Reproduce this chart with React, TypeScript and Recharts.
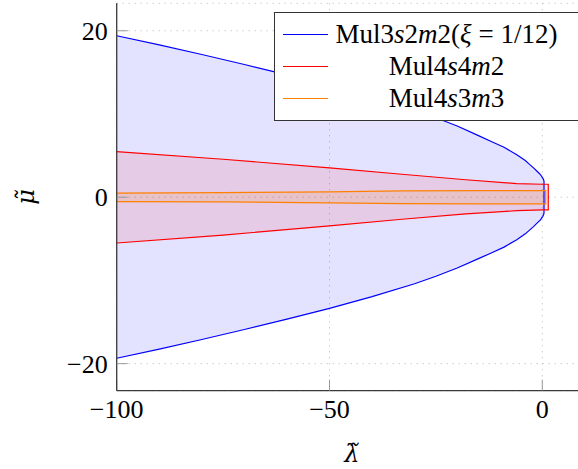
import React from 'react';
import { ComposedChart, Area, Line, XAxis, YAxis, CartesianGrid, Legend } from 'recharts';

// ---- axes ----
const xTicks = [-100, -50, 0];
const yTicks = [-20, 0, 20];
const xDomain: [number, number] = [-100, 10.5];
const yDomain: [number, number] = [-23.25, 23.3];

// ---- series: Mul3s2m2 (xi = 1/12) ----
const blueLambda = [-100, -90, -80, -70, -60, -50, -40, -30, -25, -20, -15, -12, -9, -6, -4, -3, -2, -1, -0.5, -0.2, 0.1, 0.3, 0.4];
const blueUpper = [19.4, 18.3, 17.15, 15.95, 14.7, 13.4, 12.0, 10.45, 9.55, 8.55, 7.4, 6.7, 6.0, 5.1, 4.4, 3.95, 3.5, 3.0, 2.75, 2.55, 2.3, 2.1, 1.9];
const blueLower = [-19.35, -18.25, -17.1, -15.9, -14.65, -13.35, -11.95, -10.4, -9.5, -8.5, -7.38, -6.7, -6.0, -5.1, -4.4, -3.95, -3.5, -3.0, -2.75, -2.55, -2.3, -2.1, -1.9];

// ---- series: Mul4s4m2 ----
const redLambda = [-100, -75, -50, -33, -18, -6, 0, 1.4];
const redUpper = [5.48, 4.56, 3.53, 2.76, 2.1, 1.63, 1.56, 1.56];
const redLower = [-5.5, -4.55, -3.45, -2.65, -2.0, -1.62, -1.53, -1.53];

// ---- series: Mul4s3m3 ----
const orangeLambda = [-100, -75, -50, -33, -15, 0, 0.8];
const orangeUpper = [0.5, 0.55, 0.65, 0.75, 0.79, 0.8, 0.8];
const orangeLower = [-0.52, -0.57, -0.67, -0.76, -0.8, -0.8, -0.8];

const seriesNames = ['Mul3s2m2(ξ = 1/12)', 'Mul4s4m2', 'Mul4s3m3'];
const seriesColors = ['#0000ff', '#ff0000', '#ff8000'];
const xLabel = 'λ̃';
const yLabel = 'μ̃';

const FONT = '"Liberation Serif", "Times New Roman", serif';
const ACCENT_FONT = '"DejaVu Serif", "Liberation Serif", serif';

function bandData(lam: number[], up: number[], lo: number[]) {
  return lam.map((x, i) => ({ x, band: [lo[i], up[i]] }));
}
function outlineData(lam: number[], up: number[], lo: number[]) {
  const top = lam.map((x, i) => ({ x, y: up[i] }));
  const bottom = lam.map((x, i) => ({ x, y: lo[i] })).reverse();
  return [...top, ...bottom];
}

const series = [
  { lam: blueLambda, up: blueUpper, lo: blueLower, fillOpacity: 0.11 },
  { lam: redLambda, up: redUpper, lo: redLower, fillOpacity: 0.1 },
  { lam: orangeLambda, up: orangeUpper, lo: orangeLower, fillOpacity: 0.12 },
];

const fmt = (v: number) => String(v).replace('-', '\u2212');

function renderName(name: string) {
  return name.split('').map((ch, i) =>
    ch === 's' || ch === 'm' || ch === 'ξ' ? (
      <span key={i} style={{ fontStyle: 'italic' }}>{ch}</span>
    ) : (
      <span key={i}>{ch}</span>
    )
  );
}

const LegendBox = () => (
  <div
    style={{
      position: 'relative',
      width: 310,
      height: 109,
      border: '1.3px solid #333',
      background: '#fff',
      boxSizing: 'border-box',
      fontFamily: FONT,
      fontSize: 27,
      color: '#000',
    }}
  >
    {seriesNames.map((n, i) => (
      <div key={n} style={{ position: 'absolute', left: 0, top: 5 + i * 32.3, height: 32.3, width: '100%' }}>
        <div
          style={{
            position: 'absolute',
            left: 8,
            width: 44.6,
            top: 16,
            borderTop: `1.2px solid ${seriesColors[i]}`,
          }}
        />
        <div
          style={{
            position: 'absolute',
            left: 58,
            width: 227,
            top: 0,
            lineHeight: '32px',
            textAlign: 'center',
            whiteSpace: 'nowrap',
          }}
        >
          {renderName(n)}
        </div>
      </div>
    ))}
  </div>
);

const XLabel = (props: any) => {
  const vb = props.viewBox || {};
  return (
    <text x={vb.x + vb.width / 2} y={vb.y + 71} textAnchor="middle" fontFamily={ACCENT_FONT} fontSize={24} fontStyle="italic" fill="#000">
      {xLabel}
    </text>
  );
};

const YLabel = (props: any) => {
  const vb = props.viewBox || {};
  const cx = vb.x + 29;
  const cy = vb.y + vb.height / 2;
  return (
    <text
      x={cx}
      y={cy + 5}
      textAnchor="middle"
      transform={`rotate(-90 ${cx} ${cy})`}
      fontFamily={ACCENT_FONT}
      fontSize={24}
      fontStyle="italic"
      fill="#000"
    >
      {yLabel}
    </text>
  );
};

const tickStyle = { fontFamily: FONT, fontSize: 26, fill: '#000' };

export default function App() {
  return (
    <div style={{ position: 'absolute', left: 0, top: 0, width: 578, height: 469, overflow: 'hidden', background: '#fff' }}>
      <ComposedChart width={587} height={469} margin={{ top: 3.3, right: 0, bottom: 0, left: 0 }}>
        <CartesianGrid stroke="#b5b5b5" strokeDasharray="1 5" strokeWidth={1} />
        <XAxis
          xAxisId={0}
          type="number"
          dataKey="x"
          domain={xDomain}
          ticks={xTicks}
          allowDataOverflow
          height={78.3}
          axisLine={{ stroke: '#3a3a3a', strokeWidth: 1.3 }}
          tickLine={{ stroke: '#999', strokeWidth: 1 }}
          tickSize={-11}
          tickMargin={20}
          tick={tickStyle}
          tickFormatter={fmt}
          label={<XLabel />}
        />
        <XAxis
          xAxisId="top"
          orientation="top"
          type="number"
          dataKey="x"
          domain={xDomain}
          ticks={xTicks}
          allowDataOverflow
          height={0}
          axisLine={{ stroke: '#3a3a3a', strokeWidth: 1.3 }}
          tickLine={{ stroke: '#999', strokeWidth: 1 }}
          tickSize={-11}
          tick={false}
        />
        <YAxis
          yAxisId={0}
          type="number"
          domain={yDomain}
          ticks={yTicks}
          allowDataOverflow
          width={116.7}
          axisLine={{ stroke: '#3a3a3a', strokeWidth: 1.3 }}
          tickLine={{ stroke: '#999', strokeWidth: 1 }}
          tickSize={-11}
          tickMargin={20}
          tick={tickStyle}
          tickFormatter={fmt}
          label={<YLabel />}
        />
        <YAxis
          yAxisId="right"
          orientation="right"
          type="number"
          domain={yDomain}
          ticks={yTicks}
          allowDataOverflow
          width={0}
          axisLine={{ stroke: '#3a3a3a', strokeWidth: 1.3 }}
          tickLine={{ stroke: '#999', strokeWidth: 1 }}
          tickSize={-11}
          tick={false}
        />
        {series.map((s, i) => (
          <Area
            key={`a${i}`}
            data={bandData(s.lam, s.up, s.lo)}
            dataKey="band"
            type="linear"
            stroke="none"
            fill={seriesColors[i]}
            fillOpacity={s.fillOpacity}
            isAnimationActive={false}
            legendType="none"
            activeDot={false}
          />
        ))}
        {series.map((s, i) => (
          <Line
            key={`l${i}`}
            data={outlineData(s.lam, s.up, s.lo)}
            dataKey="y"
            name={seriesNames[i]}
            type="linear"
            stroke={seriesColors[i]}
            strokeWidth={1.2}
            dot={false}
            activeDot={false}
            isAnimationActive={false}
          />
        ))}
        <Legend
          verticalAlign="middle"
          align="center"
          content={() => <LegendBox />}
          wrapperStyle={{ left: 274, top: 11.7, width: 310 }}
        />
      </ComposedChart>
    </div>
  );
}
